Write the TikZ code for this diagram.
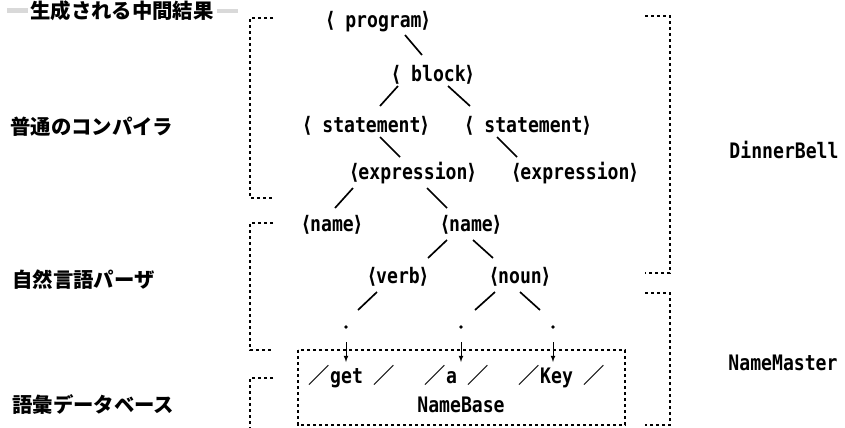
\documentclass[tikz,border=0pt]{standalone}
\usepackage{fontspec}
\setmonofont{DejaVu Sans Mono}[FakeStretch=0.85]
\newfontfamily\jp{Noto Sans CJK JP}
\newfontfamily\brk{DejaVu Sans}[FakeStretch=0.85]
\newcommand{\ang}[1]{{\brk ⟨}#1{\brk ⟩}}

\tikzset{
  tok/.style={anchor=base, inner sep=0pt, font=\fontsize{18.2pt}{20pt}\selectfont\ttfamily\bfseries},
  jlabel/.style={anchor=west, inner sep=0pt, font=\fontsize{17.4pt}{20pt}\selectfont\jp\bfseries},
  branch/.style={line width=0.5mm},
  frame/.style={line width=0.35mm, dash pattern=on 1mm off 0.8mm},
  leaf/.style={circle, fill, inner sep=0pt, minimum size=1.1mm},
}

\begin{document}
\begin{tikzpicture}[x=0.3mm,y=-0.3mm,>=latex]
    \useasboundingbox (0,0) rectangle (845,427);

    % heading
    \fill[gray!30] (7,8) rectangle (28,13);
    \fill[gray!30] (217,9) rectangle (238,13);
    \node[jlabel] (title) at (30,11) {生成される中間結果};

    % layer names
    \node[jlabel] (comp) at (10,127) {普通のコンパイラ};
    \node[jlabel] (nlp) at (12,280) {自然言語パーザ};
    \node[jlabel] (vocab) at (12,405) {語彙データベース};
    \node[tok] (bell) at (784,158) {DinnerBell};
    \node[tok] (master) at (783,370) {NameMaster};

    % tree
    \node[tok] (prog) at (378,27) {\ang{ program}};
    \node[tok] (block) at (433,81) {\ang{ block}};
    \node[tok] (stmtL) at (366,132) {\ang{ statement}};
    \node[tok] (stmtR) at (528,132) {\ang{ statement}};
    \node[tok] (exprL) at (413,179) {\ang{expression}};
    \node[tok] (exprR) at (575,179) {\ang{expression}};
    \node[tok] (nameL) at (332,231) {\ang{name}};
    \node[tok] (nameR) at (471,231) {\ang{name}};
    \node[tok] (verb) at (398,283) {\ang{verb}};
    \node[tok] (noun) at (520,283) {\ang{noun}};
    \node[leaf] (dGet) at (346,327) {};
    \node[leaf] (dA) at (461,327) {};
    \node[leaf] (dKey) at (553,327) {};

    \draw[branch] ([shift={(27,8)}]prog.base) -- ([shift={(-11,-26)}]block.base);
    \draw[branch] ([shift={(-35,5)}]block.base) -- ([shift={(14,-26)}]stmtL.base);
    \draw[branch] ([shift={(15,5)}]block.base) -- ([shift={(-58,-26)}]stmtR.base);
    \draw[branch] ([shift={(14,5)}]stmtL.base) -- ([shift={(-13,-22)}]exprL.base);
    \draw[branch] ([shift={(-31,5)}]stmtR.base) -- ([shift={(-58,-22)}]exprR.base);
    \draw[branch] ([shift={(-60,9)}]exprL.base) -- ([shift={(3,-23)}]nameL.base);
    \draw[branch] ([shift={(14,9)}]exprL.base) -- ([shift={(-24,-23)}]nameR.base);
    \draw[branch] ([shift={(-24,9)}]nameR.base) -- ([shift={(30,-25)}]verb.base);
    \draw[branch] ([shift={(2,9)}]nameR.base) -- ([shift={(-27,-25)}]noun.base);
    \draw[branch] ([shift={(-21,9)}]verb.base) -- ([shift={(12,-17)}]dGet.center);
    \draw[branch] ([shift={(-25,9)}]noun.base) -- ([shift={(14,-17)}]dA.center);
    \draw[branch] ([shift={(0,9)}]noun.base) -- ([shift={(-13,-17)}]dKey.center);

    % words in the database
    \node[tok] (wGet) at (352,383) {{\jp ／}get {\jp ／}};
    \node[tok] (wA) at (457,383) {{\jp ／}a {\jp ／}};
    \node[tok] (wKey) at (562,383) {{\jp ／}Key {\jp ／}};
    \node[tok] (base) at (461,412) {NameBase};

    \draw[->, thick] ([yshift=-4.5mm]dGet.center) -- ([shift={(-6,-21)}]wGet.base);
    \draw[->, thick] ([yshift=-4.5mm]dA.center) -- ([shift={(4,-21)}]wA.base);
    \draw[->, thick] ([yshift=-4.5mm]dKey.center) -- ([shift={(-9,-21)}]wKey.base);

    % layer brackets
    \draw[frame] (273,18) -- (250,18) -- (250,198) -- (273,198);
    \draw[frame] (273,223) -- (250,223) -- (250,350) -- (273,350);
    \draw[frame] (273,378) -- (250,378) -- (250,430);
    \draw[frame] (645,16) -- (670,16) -- (670,273) -- (645,273);
    \draw[frame] (645,293) -- (670,293) -- (670,425) -- (645,425);
    \draw[frame] (298,350) rectangle (625,425);
\end{tikzpicture}
\end{document}
